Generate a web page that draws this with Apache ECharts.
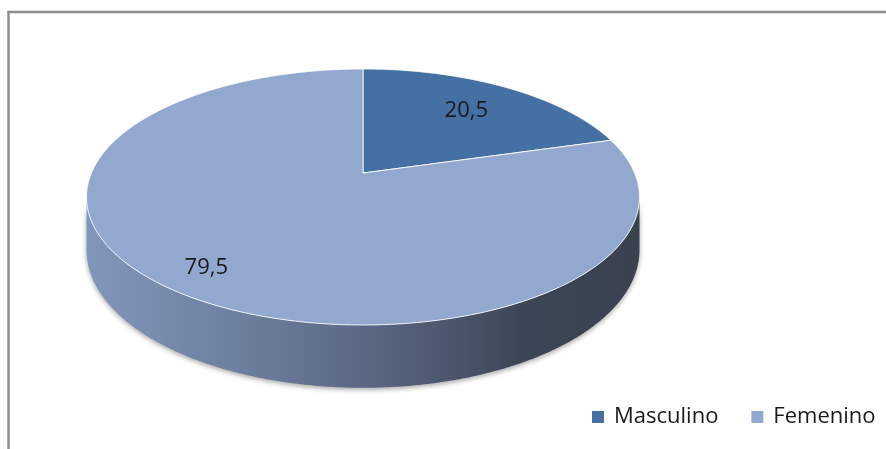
<!DOCTYPE html>
<html>
<head>
<meta charset="utf-8">
<script src="https://cdn.jsdelivr.net/npm/echarts@6/dist/echarts.min.js"></script>
<style>
  html, body { margin: 0; padding: 0; background: #fff; }
  #chart { width: 886px; height: 449px; }
</style>
</head>
<body>
<div id="chart"></div>
<script>
// data
const categories = ['Masculino', 'Femenino']
const values = [20.5, 79.5]

// look
const colors = ['#4470a4', '#93a8cf']
const labelRadius = [0.7, 0.84]

// 3d pie geometry (perspective ellipse)
const CX = 363, CY = 173, RX = 271.6, RY = 123.5, PERSP = 0.1875, DEPTH = 51
const WALL_A = Math.acos(-PERSP)
const WALL_B = Math.PI * 2 - WALL_A
const EDGE = RX / Math.sqrt(1 - PERSP * PERSP)

function project(theta, r, down) {
  const u = Math.sin(theta) * r
  const v = Math.cos(theta) * r
  const w = 1 + PERSP * v
  return [CX + RX * u / w, CY - RY * v / w + (down ? DEPTH / w : 0)]
}

function arc(a0, a1, down) {
  const n = Math.max(2, Math.ceil(Math.abs(a1 - a0) / 0.01))
  const pts = []
  for (let i = 0; i <= n; i++) pts.push(project(a0 + (a1 - a0) * i / n, 1, down))
  return pts
}

const total = values.reduce((s, v) => s + v, 0)
const starts = values.map((v, i) => values.slice(0, i).reduce((s, x) => s + x, 0))

const wallFill = new echarts.graphic.LinearGradient(CX - EDGE, 0, CX + EDGE, 0, [
  { offset: 0, color: '#8296bb' },
  { offset: 0.3, color: '#6c7d9c' },
  { offset: 0.55, color: '#56637d' },
  { offset: 0.8, color: '#3c4555' },
  { offset: 1, color: '#3a4250' }
], true)

function renderSlice(idx) {
  return function (params, api) {
    const a0 = Math.PI * 2 * starts[idx] / total
    const a1 = Math.PI * 2 * (starts[idx] + values[idx]) / total
    const children = []

    const s = Math.max(a0, WALL_A), e = Math.min(a1, WALL_B)
    if (e > s) {
      children.push({
        type: 'polygon',
        z2: 1,
        shape: { points: arc(s, e, false).concat(arc(e, s, true)) },
        style: {
          fill: wallFill,
          shadowColor: 'rgba(0,0,0,0.35)',
          shadowBlur: 5,
          shadowOffsetY: 2
        }
      })
    }

    children.push({
      type: 'polygon',
      z2: 2,
      shape: { points: [[CX, CY]].concat(arc(a0, a1, false)) },
      style: { fill: colors[idx], stroke: 'rgba(255,255,255,0.85)', lineWidth: 1 }
    })

    const mid = (a0 + a1) / 2
    const lp = project(mid, labelRadius[idx], false)
    children.push({
      type: 'text',
      z2: 3,
      style: {
        text: String(values[idx]).replace('.', ','),
        x: lp[0],
        y: lp[1],
        align: 'center',
        verticalAlign: 'middle',
        fontFamily: 'Open Sans',
        fontSize: 22,
        fill: '#1a1a1a'
      }
    })
    return { type: 'group', children }
  }
}

const chart = echarts.init(document.getElementById('chart'))
chart.setOption({
  backgroundColor: '#fff',
  animation: false,
  graphic: [{
    type: 'rect',
    shape: { x: 8.5, y: 12, width: 900, height: 460 },
    style: { fill: 'none', stroke: '#8c8c8c', lineWidth: 2.5 },
    silent: true
  }],
  legend: {
    left: 587,
    top: 401,
    icon: 'rect',
    itemWidth: 12,
    itemHeight: 12,
    itemGap: 33,
    selectedMode: false,
    textStyle: { fontFamily: 'Open Sans', fontSize: 22, color: '#1a1a1a', padding: [0, 0, 0, 5] },
    data: categories
  },
  series: categories.map((name, i) => ({
    type: 'custom',
    name,
    coordinateSystem: 'none',
    itemStyle: { color: colors[i] },
    data: [values[i]],
    renderItem: renderSlice(i)
  }))
})
</script>
</body>
</html>
